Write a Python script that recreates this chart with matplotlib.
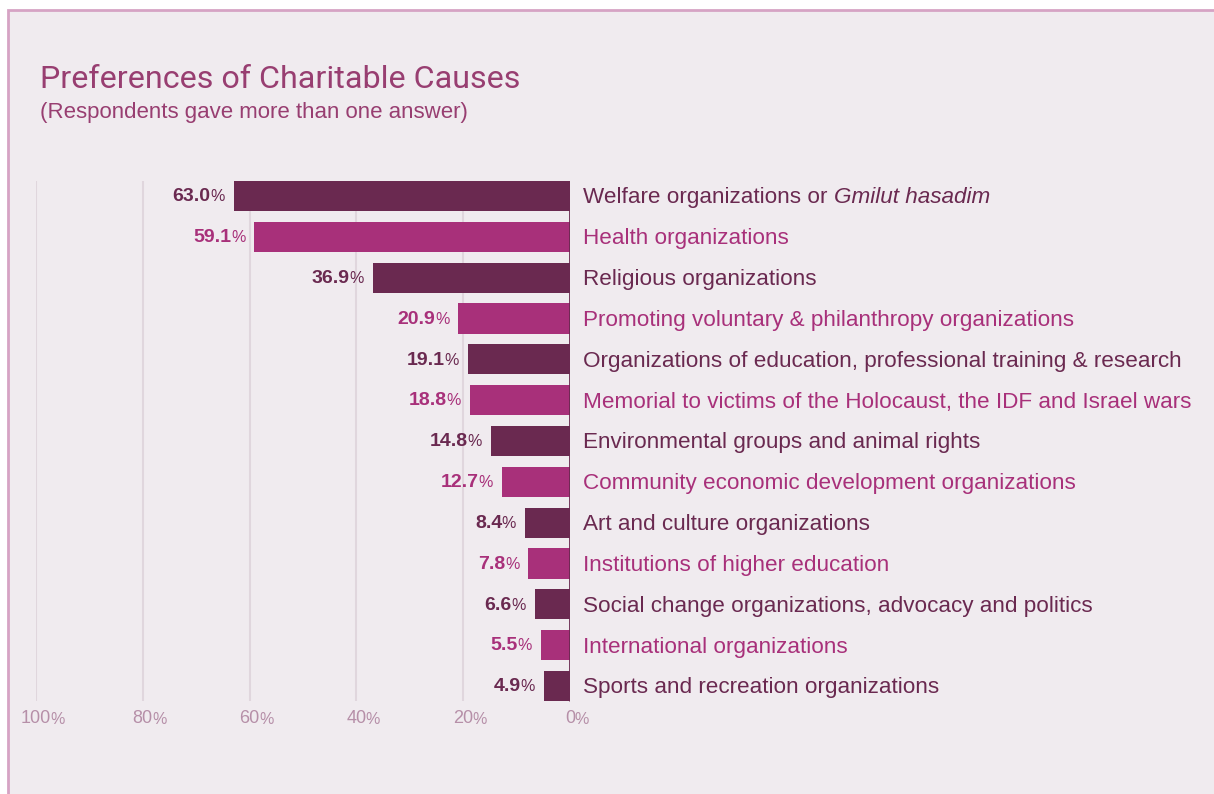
import matplotlib
matplotlib.use('Agg')
import matplotlib.pyplot as plt
from matplotlib.patches import Rectangle

# ----------------------------------------------------------------
# Data
# ----------------------------------------------------------------
causes = [
    'Welfare organizations or ',
    'Health organizations',
    'Religious organizations',
    'Promoting voluntary & philanthropy organizations',
    'Organizations of education, professional training & research',
    'Memorial to victims of the Holocaust, the IDF and Israel wars',
    'Environmental groups and animal rights',
    'Community economic development organizations',
    'Art and culture organizations',
    'Institutions of higher education',
    'Social change organizations, advocacy and politics',
    'International organizations',
    'Sports and recreation organizations',
]
italic_suffix = 'Gmilut hasadim'   # appended in italics to the first cause
shares = [63.0, 59.1, 36.9, 20.9, 19.1, 18.8, 14.8, 12.7, 8.4, 7.8, 6.6, 5.5, 4.9]
ticks = [100, 80, 60, 40, 20, 0]

# ----------------------------------------------------------------
# Style
# ----------------------------------------------------------------
DARK = '#6a2950'
MAGENTA = '#a8307a'
PANEL = '#f0ebef'
BORDER = '#d6a3c4'
GRID = '#e0d6dd'
TICK = '#b68fa8'
TITLE = '#983e71'
FONT = 'Liberation Sans'

W, H = 1214, 794
fig = plt.figure(figsize=(W / 100, H / 100), dpi=100, facecolor='white')

# panel with a border on the top and left only
fig.patches.append(Rectangle((8 / W, -0.05), 1.1, 1 - 10 / H + 0.05,
                             transform=fig.transFigure, facecolor=PANEL,
                             edgecolor=BORDER, lw=2, zorder=-5))

fig.text(40 / W, 1 - 88 / H, 'Preferences of Charitable Causes',
         fontsize=23.2, color=TITLE, family='Roboto', va='baseline')
fig.text(40 / W, 1 - 118 / H, '(Respondents gave more than one answer)',
         fontsize=16, color=TITLE, family=FONT, va='baseline')

row = 40.83
top = 196 - row / 2
bottom = 686 + row / 2
ax = fig.add_axes([36 / W, 1 - bottom / H, (570 - 36) / W, (bottom - top) / H])
ax.set_facecolor('none')
ax.set_xlim(100, 0)
ax.set_ylim(len(shares) - 0.5, -0.5)
ax.axis('off')

bar_h = 0.735
ax.vlines(ticks[:-1], -bar_h / 2, len(shares) - 1 + bar_h / 2,
          color=GRID, lw=1.5, zorder=1)

colors = [DARK if i % 2 == 0 else MAGENTA for i in range(len(shares))]
ys = list(range(len(shares)))
ax.barh(ys, shares, height=bar_h, color=colors, zorder=2)
ax.vlines(0, -bar_h / 2, len(shares) - 1 + bar_h / 2, color=DARK,
          lw=2, zorder=3)

for y, v, c, name in zip(ys, shares, colors, causes):
    # value label: bold number followed by a smaller percent sign
    pct = ax.annotate('%', xy=(v, y + 0.13), xytext=(-6.5, 0),
                      textcoords='offset points', ha='right', va='baseline',
                      fontsize=11.5, color=c, family=FONT)
    ax.annotate(f'{v:.1f}', xy=(0, y + 0.13), xycoords=(pct, 'data'),
                xytext=(0.3, 0), textcoords='offset points',
                ha='right', va='baseline', fontsize=14, fontweight='bold',
                color=c, family=FONT)
    t = ax.annotate(name, xy=(0, y + 0.18), xytext=(9.5, 0),
                    textcoords='offset points', ha='left', va='baseline',
                    fontsize=16.2, color=DARK if c == DARK else MAGENTA,
                    family=FONT, annotation_clip=False)
    if y == 0:
        ax.annotate(italic_suffix, xy=(1, 0), xycoords=t, ha='left',
                    va='bottom', fontsize=16.2, style='italic', color=DARK,
                    family=FONT)

# x tick labels: number centred on the gridline, smaller percent sign after it
for tk in ticks:
    num = ax.annotate(f'{tk}', xy=(tk, 0), xycoords=('data', 'axes fraction'),
                      xytext=(0, -12), textcoords='offset points',
                      ha='center', va='baseline', fontsize=13, color=TICK,
                      family=FONT, annotation_clip=False)
    ax.annotate('%', xy=(1, 0), xycoords=num, xytext=(-0.6, 0),
                textcoords='offset points', ha='left', va='bottom',
                fontsize=11.5, color=TICK, family=FONT)

fig.savefig('out.png', dpi=100, facecolor='white')
